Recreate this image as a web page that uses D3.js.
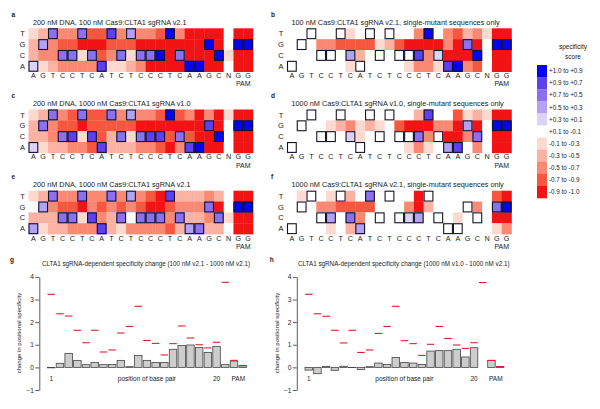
<!DOCTYPE html>
<html><head><meta charset="utf-8">
<script src="https://cdn.jsdelivr.net/npm/d3@7"></script>
<style>body{margin:0;background:#fff} svg{display:block} text{font-family:"Liberation Sans",Arial,sans-serif;fill:#1a1a1a}</style>
</head><body><svg id="c" width="600" height="409"></svg>
<script>
// ---------- DATA ----------
const sequence = ["A","G","T","C","C","T","C","A","T","C","T","C","C","C","T","C","A","A","G","C","N","G","G"];
const bases = ["T","G","C","A"];
// specificity score bins, in units of 0.2 (5 = +1.0 ... -5 = -1.0)
const a_T = [-1,-2,3,-3,-3,3,-4,-4,4,-3,2,-3,-3,-4,5,-3,-5,-5,-5,-5,0,-5,-5];
const a_G = [-2,2,-3,-4,-4,-5,-5,-5,-4,-4,-4,-5,-5,-5,-5,-5,-5,-5,5,-5,0,5,5];
const a_C = [-2,-3,-3,3,3,-1,3,-4,-3,3,-1,3,3,5,-5,3,-5,-5,-5,5,-1,-5,-5];
const a_A = [1,-1,-2,-3,-3,-3,-3,4,-1,-1,-2,-3,-5,-5,-5,-5,5,5,-5,-5,0,-5,-5];

const b_T = [0,0,0,0,0,0,-1,0,0,0,0,0,0,-3,5,0,-3,-4,-2,-3,-1,-5,-5];
const b_G = [0,0,0,-3,-3,-4,-4,-4,-4,-1,-2,-4,-5,-5,-5,-5,-3,-5,3,-5,0,5,5];
const b_C = [0,0,0,0,0,0,2,-2,0,0,0,0,0,4,-3,1,-5,-5,-5,5,0,-5,-5];
const b_A = [0,0,0,0,0,0,-1,0,0,0,0,0,-1,-3,-3,-1,4,5,-3,-4,0,-5,-5];

const c_T = [-1,-2,3,-3,-4,3,-4,-4,3,-3,2,-3,-3,-4,5,-4,-3,-5,-3,-5,-1,-5,-5];
const c_G = [-2,3,-3,-4,-4,-5,-4,-4,-4,-4,-4,-5,-5,-5,-5,-5,-5,-5,4,-5,0,5,5];
const c_C = [-2,-2,-3,3,4,-1,4,-4,-2,3,-1,3,4,4,-4,3,-4,-5,-5,5,0,-5,-5];
const c_A = [1,-1,-2,-2,-3,-3,-4,4,-2,-2,-2,-3,-3,-4,-5,-3,4,5,-5,-5,0,-5,-5];

const d_T = [0,0,0,0,0,0,0,0,0,0,0,0,0,-2,4,0,0,-4,-1,-2,-1,-5,-5];
const d_G = [0,0,0,0,-1,-2,-3,-1,-2,-1,0,-4,-5,-5,-5,-3,-3,-5,2,-5,0,5,5];
const d_C = [0,0,0,0,0,0,1,-1,0,0,0,0,0,3,-3,0,-5,-5,-3,3,0,-5,-5];
const d_A = [0,0,0,0,0,0,0,0,0,0,0,0,-1,-3,-1,0,2,4,0,-3,0,-5,-5];

const e_T = [-1,-2,3,-3,-3,3,-3,-3,3,-3,2,-3,-4,-5,4,-2,-2,-2,-3,-2,0,-5,-5];
const e_G = [0,2,-3,-4,-4,-5,-3,-4,-3,-4,-3,-4,-5,-5,-4,-3,-3,-3,3,-5,0,5,5];
const e_C = [-2,-2,-2,3,3,-1,4,-3,-2,3,0,3,3,3,-3,3,-2,-2,-3,3,-1,-5,-5];
const e_A = [2,-1,-2,-2,-3,-3,-3,4,-2,-1,-3,-3,-3,-3,-4,-2,2,3,-2,-2,0,-5,-5];

const f_T = [0,-1,0,0,-1,0,-2,0,3,0,0,0,0,-5,0,0,0,0,0,0,0,-4,-5];
const f_G = [0,0,0,-3,-3,-4,-4,-4,-4,0,0,0,-3,-5,-2,0,0,0,0,-3,0,3,5];
const f_C = [0,0,0,0,2,0,3,-3,0,0,0,0,1,2,0,0,0,-1,0,0,0,-5,-5];
const f_A = [0,0,0,0,-1,0,-2,2,0,0,0,0,0,0,0,0,0,0,0,0,0,-1,-3];

const heatTitles = [
  "200 nM DNA, 100 nM Cas9:CLTA1 sgRNA v2.1",
  "100 nM Cas9:CLTA1 sgRNA v2.1, single-mutant sequences only",
  "200 nM DNA, 1000 nM Cas9:CLTA1 sgRNA v1.0",
  "1000 nM Cas9:CLTA1 sgRNA v1.0, single-mutant sequences only",
  "200 nM DNA, 1000 nM Cas9:CLTA1 sgRNA v2.1",
  "1000 nM Cas9:CLTA1 sgRNA v2.1, single-mutant sequences only"
];
const heatLetters = ["a","b","c","d","e","f"];

const legendLabels = ["+1.0 to +0.9","+0.9 to +0.7","+0.7 to +0.5","+0.5 to +0.3","+0.3 to +0.1",
  "+0.1 to -0.1","-0.1 to -0.3","-0.3 to -0.5","-0.5 to -0.7","-0.7 to -0.9","-0.9 to -1.0"];
const legendColors = ["#0505f2","#5d40ef","#8b70ef","#b3a1f3","#dcd3f8","#ffffff",
  "#fdd9cf","#fcb2a2","#f98973","#f6573f","#f21414"];
const binEdges = [-0.9,-0.7,-0.5,-0.3,-0.1,0.1,0.3,0.5,0.7,0.9];

const positions = d3.range(1,24);
const g_change = [-0.02,0.18,0.62,0.31,0.12,0.22,0.12,0.13,0.31,0.03,0.53,0.31,0.22,0.22,0.80,0.97,0.99,0.88,0.66,0.93,0.12,0.28,0.08];
const g_reference = [3.23,2.37,2.27,1.64,1.09,1.64,0.68,0.77,1.52,1.81,2.70,1.19,1.06,0.55,1.05,1.83,1.30,1.00,0.86,1.11,3.76,0.31,0.07];
const h_change = [-0.12,-0.28,0.04,-0.13,0.05,-0.01,-0.09,0.03,0.19,0.13,0.44,0.22,0.19,0.13,0.72,0.74,0.74,0.80,0.46,0.87,0.00,0.30,0.04];
const h_reference = [3.23,2.37,2.26,1.64,1.08,1.64,0.66,0.77,1.50,1.81,2.70,1.18,1.05,0.53,1.02,1.81,1.28,0.99,0.84,1.09,3.75,0.31,0.03];
const yTicks = [-1,0,1,2,3,4];
const barTitles = ["CLTA1 sgRNA-dependent specificity change (100 nM v2.1 - 1000 nM v2.1)",
                   "CLTA1 sgRNA-dependent specificity change (1000 nM v1.0 - 1000 nM v2.1)"];

// ---------- DRAW ----------
const svg = d3.select("#c");
const color = d3.scaleThreshold().domain(binEdges).range(legendColors.slice().reverse());

const heatData = [
  {T:a_T,G:a_G,C:a_C,A:a_A},{T:b_T,G:b_G,C:b_C,A:b_A},
  {T:c_T,G:c_G,C:c_C,A:c_A},{T:d_T,G:d_G,C:d_C,A:d_A},
  {T:e_T,G:e_G,C:e_C,A:e_A},{T:f_T,G:f_G,C:f_C,A:f_A}
];
const colX = [28.5, 287];
const rowY = [28.3, 109.5, 190.7];
const cw = 9.76, ch = 10.85;

heatData.forEach((pd, i) => {
  const x0 = colX[i % 2], y0 = rowY[Math.floor(i / 2)];
  const x = d3.scaleBand().domain(d3.range(23)).range([x0, x0 + 23 * cw]);
  const y = d3.scaleBand().domain(bases).range([y0, y0 + 4 * ch]);
  const g = svg.append("g");
  const cells = [];
  bases.forEach(b => pd[b].forEach((v, c) => cells.push({b, c, v: v * 0.2})));
  g.selectAll("rect.cell").data(cells).join("rect").attr("class","cell")
    .attr("x", d => x(d.c)).attr("y", d => y(d.b))
    .attr("width", x.bandwidth() + 0.3).attr("height", y.bandwidth() + 0.3)
    .attr("fill", d => color(d.v));
  g.selectAll("rect.wt").data(cells.filter(d => sequence[d.c] === d.b)).join("rect").attr("class","wt")
    .attr("x", d => x(d.c) + 0.5).attr("y", d => y(d.b) + 0.5)
    .attr("width", x.bandwidth() - 1).attr("height", y.bandwidth() - 1)
    .attr("fill","none").attr("stroke","#141428").attr("stroke-width",1.1);
  g.selectAll("text.row").data(bases).join("text").attr("class","row")
    .attr("x", x0 - 6).attr("y", d => y(d) + y.bandwidth()/2 + 2.6)
    .attr("text-anchor","middle").style("font-size","7.5px").text(d => d);
  g.selectAll("text.col").data(sequence).join("text").attr("class","col")
    .attr("x", (d, c) => x(c) + x.bandwidth()/2).attr("y", y0 + 4 * ch + 6.5)
    .attr("text-anchor","middle").style("font-size","7.2px").text(d => d);
  g.append("text").attr("x", x(21) + x.bandwidth()).attr("y", y0 + 4 * ch + 14.6)
    .attr("text-anchor","middle").style("font-size","7px").text("PAM");
  g.append("text").attr("x", x0 + 4.5).attr("y", y0 - 3.3)
    .style("font-size","7.3px").text(heatTitles[i]);
  g.append("text").attr("x", i % 2 ? 271 : 11.5).attr("y", y0 - 11.5)
    .style("font-size","6.5px").style("font-weight","bold").text(heatLetters[i]);
});

// legend
const lg = svg.append("g");
lg.append("text").attr("x",573).attr("y",49).attr("text-anchor","middle").style("font-size","6.5px").text("specificity");
lg.append("text").attr("x",573).attr("y",58.5).attr("text-anchor","middle").style("font-size","6.5px").text("score");
const ly = d3.scaleBand().domain(legendLabels).range([65, 65 + 11 * 12.1]);
lg.selectAll("rect").data(legendLabels).join("rect")
  .attr("x",537).attr("y", d => ly(d)).attr("width",10).attr("height", ly.bandwidth() + 0.2)
  .attr("fill", (d, i) => legendColors[i]);
lg.selectAll("text.l").data(legendLabels).join("text").attr("class","l")
  .attr("x",549).attr("y", d => ly(d) + ly.bandwidth()/2 + 2.2)
  .style("font-size","6.3px").text(d => d);

// bar charts
const yB = d3.scaleLinear().domain([-1, 4]).range([390, 276.9]);
[[g_change, g_reference, 0, "g"], [h_change, h_reference, 257.5, "h"]].forEach(([chg, ref, dx, lab], k) => {
  const g = svg.append("g");
  const axX = 39.3 + dx;
  const xb = d3.scaleBand().domain(positions).range([46.9 + dx, 46.9 + dx + 23 * 8.7]).paddingInner(0.14).paddingOuter(0.07);
  const ax = g.append("g").attr("transform", `translate(${axX},0)`)
    .call(d3.axisLeft(yB).tickValues(yTicks).tickFormat(d3.format("d")).tickSize(4).tickSizeOuter(0));
  ax.select(".domain").attr("stroke","#333").attr("stroke-width",0.8);
  ax.selectAll(".tick line").attr("stroke","#333").attr("stroke-width",0.8);
  ax.selectAll(".tick text").style("font-size","6.5px").attr("x",-5.5).attr("fill","#1a1a1a");
  g.selectAll("rect").data(positions).join("rect")
    .attr("x", p => xb(p)).attr("width", xb.bandwidth())
    .attr("y", (p, i) => yB(Math.max(0, chg[i])))
    .attr("height", (p, i) => Math.abs(yB(chg[i]) - yB(0)))
    .attr("fill","#cdcdcd").attr("stroke","#444").attr("stroke-width",0.8);
  g.selectAll("line.ref").data(positions).join("line").attr("class","ref")
    .attr("x1", p => xb(p)).attr("x2", p => xb(p) + xb.bandwidth())
    .attr("y1", (p, i) => yB(ref[i])).attr("y2", (p, i) => yB(ref[i]))
    .attr("stroke","#d8222c").attr("stroke-width",1.1);
  const cx = p => xb(p) + xb.bandwidth()/2;
  g.append("text").attr("x", cx(1)).attr("y",380.5).attr("text-anchor","middle").style("font-size","6.5px").text("1");
  g.append("text").attr("x", cx(12)).attr("y",380.5).attr("text-anchor","middle").style("font-size","6.5px").text("position of base pair");
  g.append("text").attr("x", cx(20)).attr("y",380.5).attr("text-anchor","middle").style("font-size","6.5px").text("20");
  g.append("text").attr("x", (cx(22) + cx(23))/2).attr("y",380.5).attr("text-anchor","middle").style("font-size","6.5px").text("PAM");
  g.append("text").attr("transform", `translate(${21 + dx},333) rotate(-90)`).attr("text-anchor","middle")
    .style("font-size","6px").text("change in positional specificity");
  g.append("text").attr("x", 42 + dx + (k ? -1.5 : 0)).attr("y",266).style("font-size","6.3px").text(barTitles[k]);
  g.append("text").attr("x", 10 + dx + (k ? 2.2 : 0)).attr("y",262).style("font-size","6.5px").style("font-weight","bold").text(lab);
});
</script></body></html>
